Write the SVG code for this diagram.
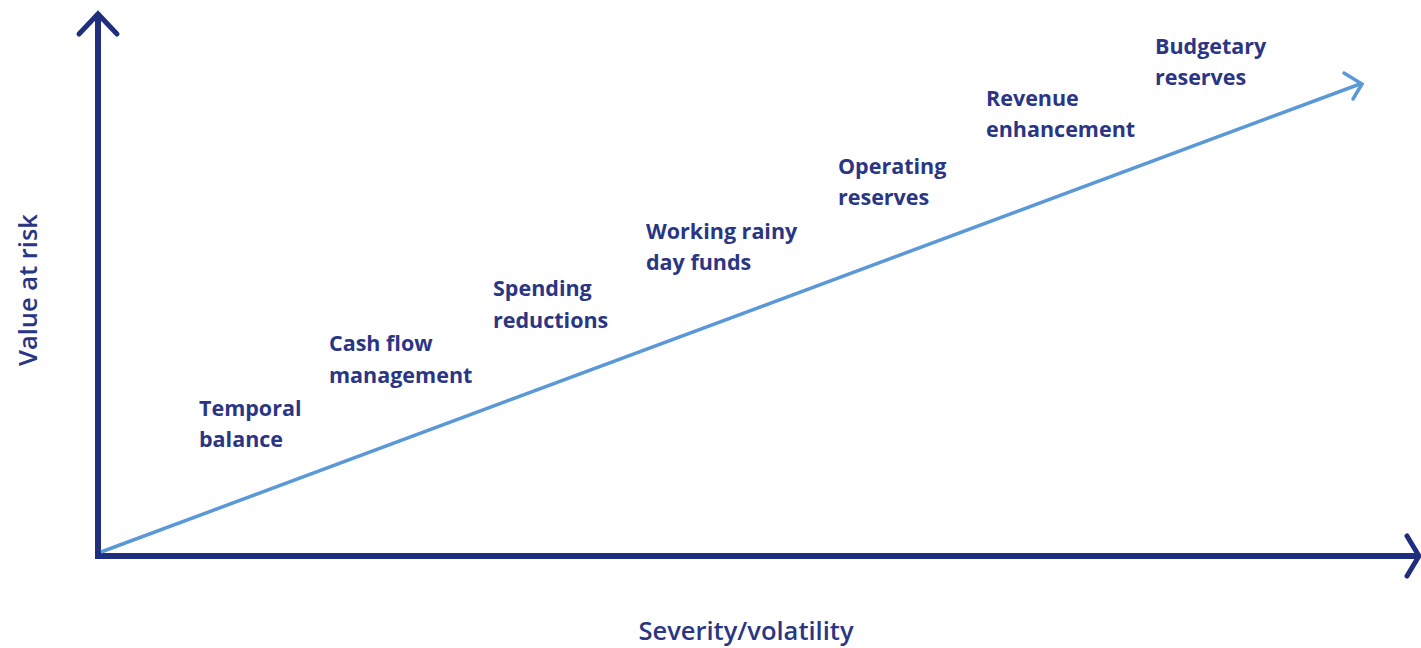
<svg xmlns="http://www.w3.org/2000/svg" width="1421" height="648" viewBox="0 0 1421 648">
<defs>
<style>
.lbl{font-family:"Open Sans","Liberation Sans",sans-serif;font-weight:700;font-size:21.5px;fill:#2a3683}
.ax{font-family:"Open Sans","Liberation Sans",sans-serif;font-weight:600;font-size:25.5px;fill:#2a3683}
.axis{stroke:#1f2f7e;stroke-width:6;fill:none;stroke-linecap:square}
.ah{stroke:#1f2f7e;stroke-width:5;fill:none;stroke-linecap:round;stroke-linejoin:miter}
.trend{stroke:#5b98d8;stroke-width:3.5;fill:none}
.th{stroke:#5b98d8;stroke-width:3.5;fill:none;stroke-linecap:round}
</style>
</defs>
<rect width="1421" height="648" fill="#ffffff"/>
<g id="connectors">
<line class="axis" x1="98" y1="16" x2="98" y2="556"/>
<polyline class="ah" points="79,34 98,14 117,34"/>
<line class="axis" x1="98" y1="556" x2="1416" y2="556"/>
<polyline class="ah" points="1407,536 1419,556 1407,576"/>
<line class="trend" x1="101" y1="552" x2="1360" y2="84"/>
<polyline class="th" points="1344,73 1362,84 1353,99"/>
</g>
<g id="y-axis-label"><text class="ax" transform="translate(37,290) rotate(-90)" text-anchor="middle">Value at risk</text></g>
<g id="x-axis-label"><text class="ax" x="746" y="640" text-anchor="middle">Severity/volatility</text></g>
<g id="n1"><text class="lbl" x="199" y="416">Temporal</text><text class="lbl" x="199" y="447">balance</text></g>
<g id="n2"><text class="lbl" x="329" y="351">Cash flow</text><text class="lbl" x="329" y="383">management</text></g>
<g id="n3"><text class="lbl" x="493" y="296">Spending</text><text class="lbl" x="493" y="328">reductions</text></g>
<g id="n4"><text class="lbl" x="646" y="239">Working rainy</text><text class="lbl" x="646" y="270">day funds</text></g>
<g id="n5"><text class="lbl" x="838" y="174">Operating</text><text class="lbl" x="838" y="205">reserves</text></g>
<g id="n6"><text class="lbl" x="986" y="106">Revenue</text><text class="lbl" x="986" y="137">enhancement</text></g>
<g id="n7"><text class="lbl" x="1155" y="54">Budgetary</text><text class="lbl" x="1155" y="85">reserves</text></g>
</svg>
